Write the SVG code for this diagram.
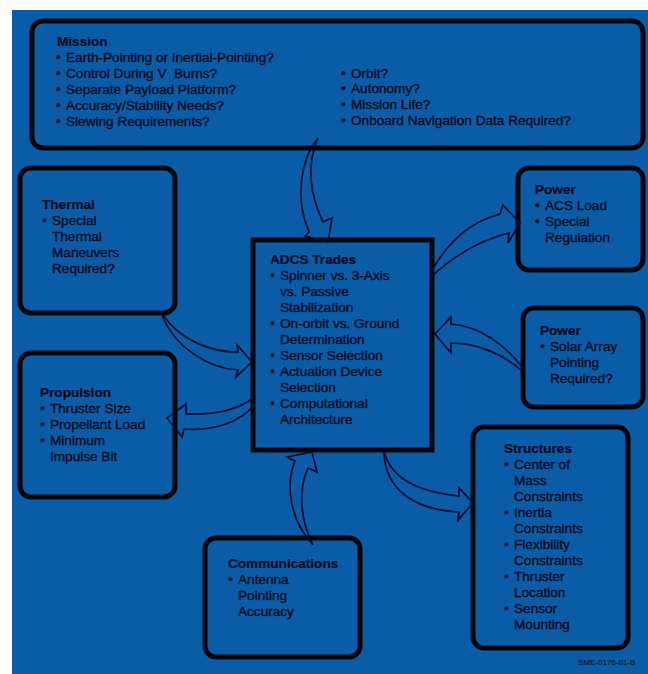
<svg xmlns="http://www.w3.org/2000/svg" width="648" height="674" viewBox="0 0 648 674">
<style>
.box{fill:none;stroke:#03060d;stroke-width:5}
.t{font-family:"Liberation Sans",Arial,sans-serif;font-size:13.6px;fill:#040a1c;stroke:#040a1c;stroke-width:0.35}
.h{font-weight:700;stroke-width:0.2}
.arr{fill:none;stroke:#050b2a;stroke-width:1.7;stroke-linejoin:miter}
.code{font-family:"Liberation Sans",Arial,sans-serif;font-size:8px;fill:#040a1c}
</style>
<rect x="0" y="0" width="648" height="674" fill="#ffffff"/>
<rect x="12" y="10" width="636" height="664" fill="#0b5ca7"/>

<g id="mission">
<rect class="box" x="32" y="21" width="611" height="127" rx="11"/>
<text class="t"><tspan class="h" x="57" y="46">Mission</tspan>
<tspan x="56" y="62">•</tspan><tspan x="66" y="62">Earth-Pointing or Inertial-Pointing?</tspan>
<tspan x="56" y="78">•</tspan><tspan x="66" y="78" style="white-space:pre">Control During V  Burns?</tspan>
<tspan x="56" y="94">•</tspan><tspan x="66" y="94">Separate Payload Platform?</tspan>
<tspan x="56" y="110">•</tspan><tspan x="66" y="110">Accuracy/Stability Needs?</tspan>
<tspan x="56" y="126">•</tspan><tspan x="66" y="126">Slewing Requirements?</tspan></text>
<text class="t"><tspan x="341" y="78">•</tspan><tspan x="351" y="78">Orbit?</tspan>
<tspan x="341" y="93">•</tspan><tspan x="351" y="93">Autonomy?</tspan>
<tspan x="341" y="109">•</tspan><tspan x="351" y="109">Mission Life?</tspan>
<tspan x="341" y="125">•</tspan><tspan x="351" y="125">Onboard Navigation Data Required?</tspan></text>
</g>

<g id="thermal">
<rect class="box" x="20" y="168" width="155" height="145" rx="11"/>
<text class="t"><tspan class="h" x="42" y="209">Thermal</tspan>
<tspan x="42" y="225">•</tspan><tspan x="52" y="225">Special</tspan>
<tspan x="52" y="241">Thermal</tspan>
<tspan x="52" y="257">Maneuvers</tspan>
<tspan x="52" y="273">Required?</tspan></text>
</g>

<g id="adcs">
<rect class="box" x="253" y="240" width="179" height="210"/>
<text class="t"><tspan class="h" x="270" y="264">ADCS Trades</tspan>
<tspan x="270" y="280">•</tspan><tspan x="280" y="280">Spinner vs. 3-Axis</tspan>
<tspan x="280" y="296">vs. Passive</tspan>
<tspan x="280" y="312">Stabilization</tspan>
<tspan x="270" y="328">•</tspan><tspan x="280" y="328">On-orbit vs. Ground</tspan>
<tspan x="280" y="344">Determination</tspan>
<tspan x="270" y="360">•</tspan><tspan x="280" y="360">Sensor Selection</tspan>
<tspan x="270" y="376">•</tspan><tspan x="280" y="376">Actuation Device</tspan>
<tspan x="280" y="392">Selection</tspan>
<tspan x="270" y="408">•</tspan><tspan x="280" y="408">Computational</tspan>
<tspan x="280" y="424">Architecture</tspan></text>
</g>

<g id="power1">
<rect class="box" x="518" y="168" width="125" height="102" rx="11"/>
<text class="t"><tspan class="h" x="535" y="194">Power</tspan>
<tspan x="535" y="210">•</tspan><tspan x="545" y="210">ACS Load</tspan>
<tspan x="535" y="226">•</tspan><tspan x="545" y="226">Special</tspan>
<tspan x="545" y="242">Regulation</tspan></text>
</g>

<g id="power2">
<rect class="box" x="523" y="308" width="120" height="99" rx="11"/>
<text class="t"><tspan class="h" x="540" y="335">Power</tspan>
<tspan x="540" y="351">•</tspan><tspan x="550" y="351">Solar Array</tspan>
<tspan x="550" y="367">Pointing</tspan>
<tspan x="550" y="383">Required?</tspan></text>
</g>

<g id="propulsion">
<rect class="box" x="20" y="353" width="155" height="144" rx="11"/>
<text class="t"><tspan class="h" x="40" y="397">Propulsion</tspan>
<tspan x="40" y="413">•</tspan><tspan x="50" y="413">Thruster Size</tspan>
<tspan x="40" y="429">•</tspan><tspan x="50" y="429">Propellant Load</tspan>
<tspan x="40" y="445">•</tspan><tspan x="50" y="445">Minimum</tspan>
<tspan x="50" y="461">Impulse Bit</tspan></text>
</g>

<g id="communications">
<rect class="box" x="205" y="538" width="155" height="119" rx="11"/>
<text class="t"><tspan class="h" x="228" y="568">Communications</tspan>
<tspan x="228" y="584">•</tspan><tspan x="238" y="584">Antenna</tspan>
<tspan x="238" y="600">Pointing</tspan>
<tspan x="238" y="616">Accuracy</tspan></text>
</g>

<g id="structures">
<rect class="box" x="473" y="427" width="155" height="221" rx="11"/>
<text class="t"><tspan class="h" x="504" y="453">Structures</tspan>
<tspan x="504" y="469">•</tspan><tspan x="514" y="469">Center of</tspan>
<tspan x="514" y="485">Mass</tspan>
<tspan x="514" y="501">Constraints</tspan>
<tspan x="504" y="517">•</tspan><tspan x="514" y="517">Inertia</tspan>
<tspan x="514" y="533">Constraints</tspan>
<tspan x="504" y="549">•</tspan><tspan x="514" y="549">Flexibility</tspan>
<tspan x="514" y="565">Constraints</tspan>
<tspan x="504" y="581">•</tspan><tspan x="514" y="581">Thruster</tspan>
<tspan x="514" y="597">Location</tspan>
<tspan x="504" y="613">•</tspan><tspan x="514" y="613">Sensor</tspan>
<tspan x="514" y="629">Mounting</tspan></text>
</g>

<g id="connectors">
<path class="arr" d="M318,138 C300,160 295,200 309,232 L305,236 L328,242 L332,218 L323,222 C310,195 306,165 318,138 Z"/>
<path class="arr" d="M163,315 C180,340 210,352 238,352 L237,345 L252,362 L236,377 L238,370 C205,368 175,345 163,318 Z"/>
<path class="arr" d="M253,398 C235,412 210,415 186,414 L186,404 L167,418 L182,437 L184,429 C215,431 240,422 253,406 Z"/>
<path class="arr" d="M432,270 C450,240 470,222 500,214 L503,205 L520,223 L508,243 L509,233 C480,240 455,255 432,276 Z"/>
<path class="arr" d="M523,368 C505,345 480,326 451,324 L451,317 L435,334 L451,353 L451,343 C478,343 505,355 523,372 Z"/>
<path class="arr" d="M384,452 C392,480 420,492 459,496 L459,488 L473,503 L458,520 L459,512 C415,510 385,490 384,452 Z"/>
<path class="arr" d="M313,545 C290,520 285,485 295,461 L287,457 L312,452 L317,472 L308,468 C298,490 300,520 313,545 Z"/>
</g>

<text class="code" x="578" y="665">SME-0176-01-B</text>
</svg>
